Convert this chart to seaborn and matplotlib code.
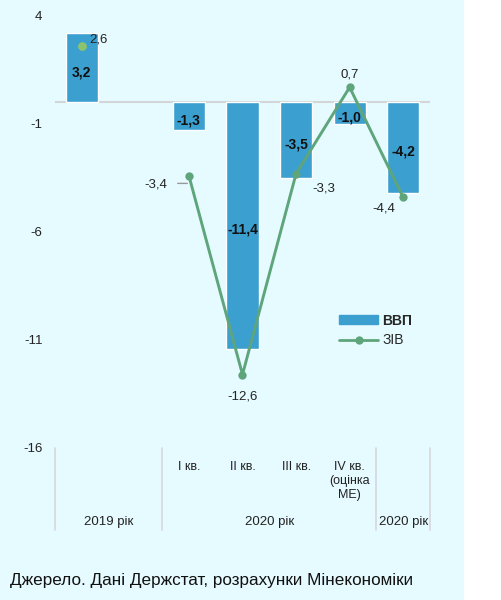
import numpy as np
import pandas as pd
import matplotlib.pyplot as plt
import seaborn as sns
from matplotlib.patches import Rectangle, Patch
from matplotlib.lines import Line2D

# --- Data ---
slots = ["2019", "", "I кв.", "II кв.", "III кв.", "IV кв.\n(оцінка\nМЕ)", "2020"]
bar_slots = ["2019", "I кв.", "II кв.", "III кв.", "IV кв.\n(оцінка\nМЕ)", "2020"]
gdp = [3.2, -1.3, -11.4, -3.5, -1.0, -4.2]
ziv_year = [2.6]          # 2019, stand-alone point
ziv_quarters = [-3.4, -12.6, -3.3, 0.7, -4.4]   # I..IV кв. + 2020
groups = ["2019 рік", "2020 рік", "2020 рік"]
yticks = [4, -1, -6, -11, -16]

BLUE = "#3B9FCF"
GREEN = "#5FA57B"
LIGHT_GREEN = "#8CC46E"
BG = "#E6FBFF"

sns.set_theme(style="white")
plt.rcParams["font.family"] = ["Liberation Sans", "DejaVu Sans"]

pos = [slots.index(s) for s in bar_slots]
df_bar = pd.DataFrame({"pos": pos, "gdp": gdp})
df_line = pd.DataFrame({"pos": pos[1:], "ziv": ziv_quarters})
df_pt = pd.DataFrame({"pos": pos[:1], "ziv": ziv_year})

fig = plt.figure(figsize=(5.02, 6), dpi=100)
fig.patch.set_facecolor("white")
fig.add_artist(Rectangle((0, 0), 463 / 502, 1, transform=fig.transFigure,
                         color=BG, zorder=-10))

ax = fig.add_axes([55 / 502, 152 / 600, 375 / 502, 432 / 600])
ax.set_facecolor("none")

sns.barplot(data=df_bar, x="pos", y="gdp", native_scale=True, width=0.6,
            color=BLUE, saturation=1, ax=ax, zorder=2)
ax.axhline(0, color="#D3D6D8", lw=1.5, zorder=1)
sns.lineplot(data=df_line, x="pos", y="ziv", color=GREEN, lw=2.1, marker="o",
             markersize=6, markeredgewidth=0, ax=ax, zorder=3)
sns.scatterplot(data=df_pt, x="pos", y="ziv", color=LIGHT_GREEN, s=40,
                linewidth=0, ax=ax, zorder=3)

ax.set_xlim(-0.5, 6.5)
ax.set_ylim(-16, 4)
ax.set_xticks([])
ax.set_yticks(yticks)
ax.set_yticklabels([str(t) for t in yticks], fontsize=9.5, color="#222222")
ax.tick_params(axis="y", length=0, pad=9)
ax.set_xlabel("")
ax.set_ylabel("")
sns.despine(ax=ax, left=True, bottom=True)

def fmt(v):
    return f"{v:.1f}".replace(".", ",")

# bar labels
for p, v in zip(pos, gdp):
    ax.annotate(fmt(v), (p, v / 2), xytext=(0, -3), textcoords="offset points",
                ha="center", va="center", fontsize=10, fontweight="bold",
                color="#111111", zorder=4)

# line labels
offsets = [(12, 5), (-24, -6), (0, -16), (20, -11), (0, 9), (-14, -8)]
all_ziv = ziv_year + ziv_quarters
for p, v, (dx, dy) in zip(pos, all_ziv, offsets):
    ax.annotate(fmt(v), (p, v), xytext=(dx, dy), textcoords="offset points",
                ha="center", va="center", fontsize=9.5, color="#222222", zorder=4)
# short leader line next to the "-3,4" label
ax.annotate("", (pos[1] - 0.03, ziv_quarters[0] - 0.35),
            xytext=(pos[1] - 0.21, ziv_quarters[0] - 0.35),
            arrowprops=dict(arrowstyle="-", color="#999999", lw=1,
                            shrinkA=0, shrinkB=0))

# legend
handles = [Patch(color=BLUE), Line2D([0], [0], color=GREEN, lw=2, marker="o",
                                     markersize=6, markeredgewidth=0)]
leg = ax.legend(handles, ["ВВП", "ЗІВ"], loc="upper left",
                bbox_to_anchor=(0.725, 0.34), frameon=False, fontsize=10,
                handlelength=2.8, handleheight=0.6, labelspacing=0.4,
                handletextpad=0.3)
leg.get_texts()[0].set_fontweight("bold")

# category table below the axis
trans = ax.get_xaxis_transform()
for xb in [-0.5, 1.5, 5.5, 6.5]:
    ax.plot([xb, xb], [0.0, -0.19], transform=trans, color="#D5D8DA",
            lw=1.2, clip_on=False)
for s in slots[2:6]:
    ax.text(slots.index(s), -0.03, s, transform=trans, ha="center", va="top",
            fontsize=9, color="#222222", linespacing=1.25)
for xc, g in zip([0.5, 3.5, 6.0], groups):
    ax.text(xc, -0.172, g, transform=trans, ha="center", va="center",
            fontsize=9.5, color="#222222")

fig.text(10 / 502, 1 - 580 / 600, "Джерело. Дані Держстат, розрахунки Мінекономіки",
         ha="left", va="center", fontsize=12.3, color="#111111")

fig.savefig("out.png", dpi=100, facecolor=fig.get_facecolor())
